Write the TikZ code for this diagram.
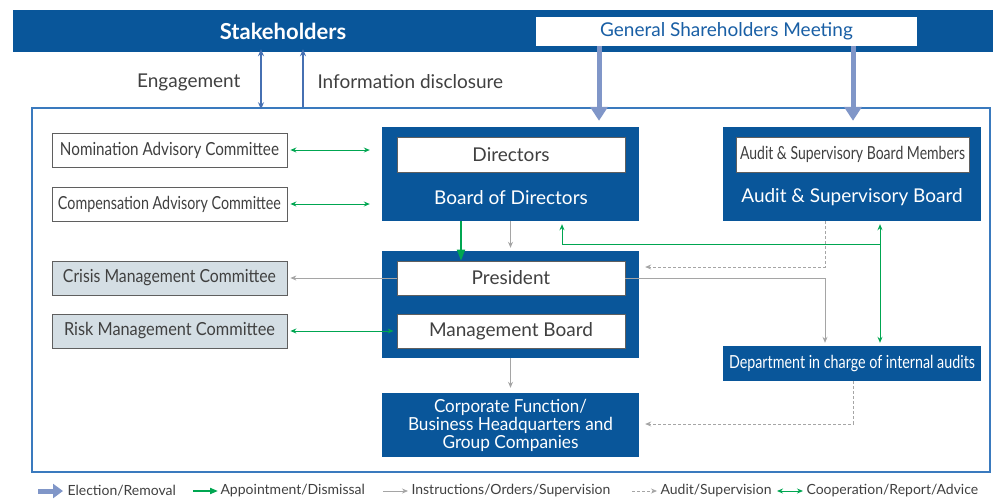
\documentclass[tikz,border=0pt]{standalone}
\usepackage{fontspec}
\usepackage{graphicx}
\setmainfont{Lato}
\usetikzlibrary{arrows.meta}

\definecolor{bandblue}{RGB}{9,86,154}
\definecolor{elecblue}{RGB}{128,150,200}
\definecolor{linkblue}{RGB}{70,112,178}
\definecolor{frameblue}{RGB}{58,122,190}
\definecolor{coopgreen}{RGB}{0,166,81}
\definecolor{instrgray}{RGB}{165,165,165}
\definecolor{commfill}{RGB}{212,222,228}
\definecolor{txtgray}{RGB}{64,64,64}
\definecolor{boxedge}{RGB}{95,95,95}
\definecolor{gsmtext}{RGB}{25,95,165}

\newcommand{\bigtxt}{\fontsize{19}{22}\selectfont}
\newcommand{\condfont}{\fontsize{18}{18}\selectfont}
\newcommand{\legtxt}{\fontsize{14}{16}\selectfont}
% squeezes a text to a given width, keeping its height
\newcommand{\condtxt}[2]{\resizebox{#1}{\height}{#2}}

\tikzset{
	bluebox/.style={fill=bandblue, draw=none, inner sep=0pt, text=white},
	whitebox/.style={fill=white, draw=boxedge, line width=0.8pt, inner sep=0pt, text=txtgray, font=\bigtxt},
	commbox/.style={whitebox, minimum width=235pt, minimum height=34pt, font=\condfont},
	legend/.style={text=txtgray, font=\legtxt, anchor=west},
	election/.style={line width=5pt, elecblue, -{Triangle[width=17pt,length=14pt]}},
	appoint/.style={line width=1.8pt, coopgreen, -{Triangle[width=8pt,length=11pt]}},
	instruct/.style={line width=0.8pt, instrgray, -{Stealth[width=5pt,length=6pt]}},
	auditline/.style={line width=0.8pt, instrgray, dashed, dash pattern=on 3pt off 2pt, -{Stealth[width=5pt,length=6pt]}},
	coop/.style={line width=1pt, coopgreen, {Stealth[width=5pt,length=6pt]}-{Stealth[width=5pt,length=6pt]}},
	disclose/.style={line width=1.3pt, linkblue}
}

\begin{document}
\begin{tikzpicture}[x=1pt, y=-1pt]
\useasboundingbox (0,0) rectangle (993,499);

	% Stakeholders band across the top
	\node[bluebox, minimum width=980pt, minimum height=42pt] (stake) at (503,31) {};
	\node[text=white, font=\fontsize{22}{24}\selectfont\bfseries] (staketxt) at (283,31) {Stakeholders};

	% General Shareholders Meeting inside the band
	\node[fill=white, inner sep=0pt, minimum width=381pt, minimum height=29pt, text=gsmtext, font=\bigtxt] (gsm) at (726.5,31.5) {General Shareholders Meeting};

	% Frame round the company
	\node[draw=frameblue, line width=1.5pt, minimum width=958pt, minimum height=364pt, inner sep=0pt] (frame) at (511,290) {};

	% Engagement and information disclosure
	\coordinate (eng) at (261,80);
	\coordinate (info) at (303,80);
	\draw[disclose, {Stealth[width=6pt,length=7pt]}-{Stealth[width=6pt,length=7pt]}] ([yshift=3]stake.south -| eng) -- ([yshift=-2]frame.north -| eng);
	\draw[disclose, -{Stealth[width=6pt,length=7pt]}] (frame.north -| info) -- ([yshift=3]stake.south -| info);
	\node[text=txtgray, font=\bigtxt, anchor=east] (engtxt) at (244,82) {Engagement};
	\node[text=txtgray, font=\bigtxt, anchor=west] (infotxt) at (314,82) {Information disclosure};


	% Board of Directors with Directors
	\node[bluebox, minimum width=257pt, minimum height=94pt] (bod) at (510.5,174) {};
	\node[whitebox, minimum width=228pt, minimum height=35pt] (dirs) at (511,154.5) {Directors};
	\node[text=white, font=\bigtxt] (bodtxt) at (511,198) {Board of Directors};

	% Audit & Supervisory Board with its members
	\node[bluebox, minimum width=258pt, minimum height=94pt] (asb) at (852,174) {};
	\node[whitebox, minimum width=233pt, minimum height=35pt, font=\condfont] (members) at (852.5,154.5) {\condtxt{225pt}{Audit \& Supervisory Board Members}};
	\node[text=white, font=\bigtxt] (asbtxt) at (852,197) {Audit \& Supervisory Board};

	% President and Management Board
	\node[bluebox, minimum width=257pt, minimum height=107pt] (mgmt) at (510.5,304.5) {};
	\node[whitebox, minimum width=228pt, minimum height=34pt] (pres) at (511,278) {President};
	\node[whitebox, minimum width=228pt, minimum height=34pt] (mboard) at (511,331) {Management Board};

	% Corporate Function / Business Headquarters and Group Companies
	\node[bluebox, minimum width=257pt, minimum height=64pt, align=center, font=\condfont] (corp) at (510.5,425) {\condtxt{153pt}{Corporate Function/}\\\condtxt{205pt}{Business Headquarters and}\\\condtxt{136pt}{Group Companies}};

	% Department in charge of internal audits
	\node[bluebox, minimum width=258pt, minimum height=35pt, font=\condfont] (dept) at (852,363.5) {\condtxt{246pt}{Department in charge of internal audits}};

	% Committees on the left
	\node[commbox] (nom) at (169.5,150) {\condtxt{219pt}{Nomination Advisory Committee}};
	\node[commbox] (comp) at (169.5,204) {\condtxt{223pt}{Compensation Advisory Committee}};
	\node[commbox, fill=commfill] (crisis) at (169.5,278) {\condtxt{213pt}{Crisis Management Committee}};
	\node[commbox, fill=commfill] (risk) at (169.5,331) {\condtxt{211pt}{Risk Management Committee}};


	% Election/Removal from the General Shareholders Meeting
	\coordinate (el) at (599,80);
	\draw[election] (gsm.south -| el) -- ([yshift=6]bod.north -| el);
	\draw[election] ([xshift=1]gsm.south -| asb.north) -- ([xshift=1,yshift=6]asb.north);

	% Committees and boards
	\draw[coop, shorten <=3pt, shorten >=12pt] (nom.east) -- (nom.east -| bod.west);
	\draw[coop, shorten <=3pt, shorten >=12pt] (comp.east) -- (comp.east -| bod.west);
	\draw[instruct, shorten >=3pt] (pres.west) -- (crisis.east);
	\draw[coop, shorten <=3pt, shorten >=3pt] (risk.east) -- (mboard.west);

	% Board of Directors to President
	\coordinate (ap) at (461,240);
	\draw[appoint] (bod.south -| ap) -- (pres.north -| ap);
	\draw[instruct, shorten >=3pt] (bod.south) -- (mgmt.north);

	% Cooperation between the audit bodies and the board
	\coordinate (cj) at (880,244);
	\draw[coop, shorten <=3pt, shorten >=3pt] (asb.south -| cj) -- (dept.north -| cj);
	\draw[line width=1pt, coopgreen, -{Stealth[width=5pt,length=6pt]}, shorten >=3pt] (cj) -| ([xshift=51.5]bod.south);

	% Audit/Supervision by the Audit & Supervisory Board
	\coordinate (aud) at (825,267);
	\draw[auditline, shorten >=6pt] (asb.south -| aud) |- (mgmt.east |- aud);

	% President to the internal audit department
	\draw[instruct, shorten >=3pt] (pres.east) -| (dept.north -| aud);

	% Management to the operating units
	\draw[instruct, shorten >=5pt] (mgmt.south) -- (corp.north);

	% Internal audits of the operating units
	\coordinate (ia) at (853,424);
	\draw[auditline, shorten >=6pt] (dept.south -| ia) |- (corp.east |- ia);


	% Legend
	\draw[line width=5pt, elecblue, -{Triangle[width=14pt,length=10pt]}] (38,491) -- (63,491);
	\node[legend] (lg1) at (64,491) {Election/Removal};
	\draw[line width=1.8pt, coopgreen, -{Triangle[width=6pt,length=8pt]}] (193,491) -- (218,491);
	\node[legend] (lg2) at (217,491) {Appointment/Dismissal};
	\draw[instruct] (383,491) -- (408,491);
	\node[legend] (lg3) at (408,491) {Instructions/Orders/Supervision};
	\draw[auditline] (632,491) -- (657,491);
	\node[legend] (lg4) at (657,491) {Audit/Supervision};
	\draw[coop] (777,491) -- (803,491);
	\node[legend] (lg5) at (803,491) {Cooperation/Report/Advice};

\end{tikzpicture}
\end{document}
